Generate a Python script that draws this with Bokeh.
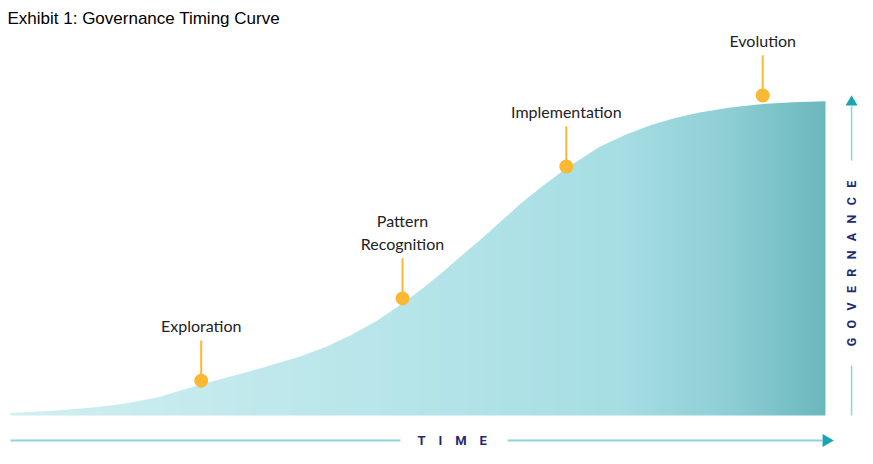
import numpy as np
from bokeh.plotting import figure
from bokeh.models import Range1d
from bokeh.core.properties import value
from bokeh.embed import file_html
from bokeh.resources import INLINE

# ---- data ----
time = [0, 3, 6.1, 10, 13.5, 18, 23.4, 29.4, 35.6, 38.8, 41.7, 45, 48.1, 50.5, 52.8, 55.2, 57.7,
        60.2, 62.6, 65.4, 68.2, 72.4, 75.5, 78.5, 81.5, 84.7, 88.3, 92.0, 96, 100]
governance = [1.0, 1.4, 1.9, 2.8, 3.8, 6.0, 10.2, 14.3, 19.1, 22.2, 25.8, 30.5, 36.0, 40.6,
              45.5, 50.9, 56.4, 62.2, 67.8, 73.6, 79.0, 86.0, 89.7, 92.7, 95.0, 96.8, 98.3,
              99.4, 100.0, 100.3]
stages = ["Exploration", "Pattern\nRecognition", "Implementation", "Evolution"]
stage_time = [23.4, 48.1, 68.2, 92.3]
stage_gov = [11.1, 37.3, 79.3, 101.9]
title = "Exhibit 1: Governance Timing Curve"
x_label = "TIME"
y_label = "GOVERNANCE"

# ---- styles ----
navy = "#1e2b6f"
line_col = "#8dd4dc"
arrow_col = "#1aa3b5"
dot_col = "#fbb834"
grad_stops = [(0, "#d2eff2"), (45, "#b8e6ea"), (75, "#a6dee4"), (88, "#8ecfd5"), (100, "#6bb8bd")]

p = figure(width=865, height=448, output_backend="svg", toolbar_location=None,
           x_range=Range1d(-1.227, 104.91), y_range=Range1d(-10.51, 132.17),
           min_border=0, outline_line_color=None)
p.axis.visible = False
p.grid.visible = False
p.background_fill_color = "white"
p.border_fill_color = "white"

# gradient image
ncol = 400
xs = np.linspace(0, 100, ncol)
def hex2rgb(h):
    return [int(h[i:i + 2], 16) for i in (1, 3, 5)]
sp = [s[0] for s in grad_stops]
rgb = np.array([hex2rgb(s[1]) for s in grad_stops])
r = np.interp(xs, sp, rgb[:, 0]); g = np.interp(xs, sp, rgb[:, 1]); b = np.interp(xs, sp, rgb[:, 2])
img = np.empty((1, ncol), dtype=np.uint32)
view = img.view(dtype=np.uint8).reshape((1, ncol, 4))
view[0, :, 0] = r.astype(np.uint8)
view[0, :, 1] = g.astype(np.uint8)
view[0, :, 2] = b.astype(np.uint8)
view[0, :, 3] = 255
top = max(governance)
p.image_rgba(image=[img], x=0, y=0, dw=100, dh=top)

# white mask above the curve
mask_x = list(time) + [time[-1], time[0]]
mask_y = list(governance) + [top + 2, top + 2]
p.patch(x=mask_x, y=mask_y, fill_color="white", line_color="white", line_width=1.5)

# stems, dots, labels
stem = 12.8
for sx, sy, name in zip(stage_time, stage_gov, stages):
    p.segment(x0=[sx], y0=[sy], x1=[sx], y1=[sy + stem], line_color=dot_col, line_width=2)
    p.text(x=[sx], y=[sy + stem + 1.6], text=[name], text_align="center",
           text_baseline="bottom", text_font=value("Lato"), text_font_size="16px",
           text_color="#222222", text_line_height=1.2)
p.scatter(x=stage_time, y=stage_gov, size=14, fill_color=dot_col, line_color=None)

# time axis
ty = -7.96
p.segment(x0=[0, 61.0], y0=[ty, ty], x1=[47.85, 99.6], y1=[ty, ty], line_color=line_col, line_width=2)
p.scatter(x=[100.1], y=[ty], marker="triangle", angle=-np.pi / 2, size=13,
          fill_color=arrow_col, line_color=None)
nb = "\u00a0"
p.text(x=[54.2], y=[ty], text=[(nb * 4).join(x_label)], text_align="center",
       text_baseline="middle", text_font=value("Roboto"), text_font_style="bold",
       text_font_size="13px", text_color=navy)

# governance axis
gx = 103.2
p.segment(x0=[gx, gx], y0=[0, 81.2], x1=[gx, gx], y1=[15.9, 98.5], line_color=line_col, line_width=1.5)
p.scatter(x=[gx], y=[99.8], marker="triangle", size=12, fill_color=arrow_col, line_color=None)
p.text(x=[gx], y=[48.4], text=[(nb * 3).join(y_label)], angle=np.pi / 2, text_align="center",
       text_baseline="middle", text_font=value("Roboto"), text_font_style="bold",
       text_font_size="12.5px", text_color=navy)

# title
p.text(x=[-0.37], y=[126.4], text=[title], text_align="left", text_baseline="middle",
       text_font=value("Liberation Sans Narrow, Liberation Sans, sans-serif"),
       text_font_size="17px", text_color="black")

open("out.html", "w").write(file_html(p, INLINE))
